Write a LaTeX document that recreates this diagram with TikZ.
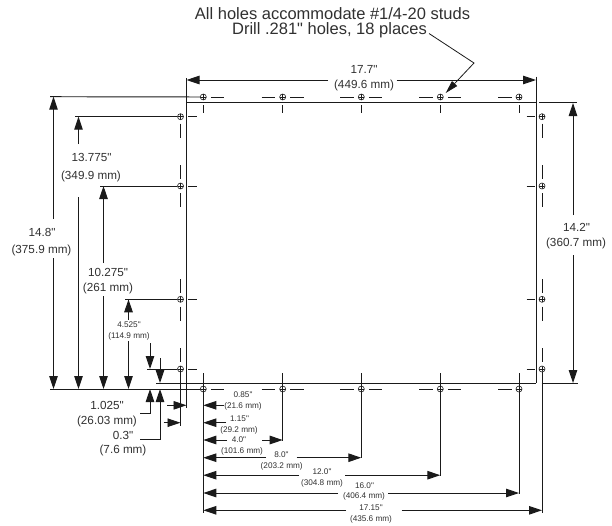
\documentclass[tikz,border=0pt]{standalone}
\usepackage{fontspec}
\setmainfont{Liberation Sans}[Ligatures=TeXOff]
\usetikzlibrary{arrows.meta}
\definecolor{ink}{HTML}{1A1A1A}
\definecolor{txt}{HTML}{303030}
\tikzset{
  ln/.style={draw=ink,line width=0.95pt},
  thin ln/.style={draw=ink,line width=0.8pt},
  arw/.style={ln,-{Triangle[length=13pt,width=8.5pt]}},
  hole/.style={circle,draw=ink,line width=0.6pt,minimum size=6pt,inner sep=0pt,
    path picture={\draw[ink,line width=0.5pt]
      (path picture bounding box.north)--(path picture bounding box.south)
      (path picture bounding box.west)--(path picture bounding box.east);}},
  big/.style={text=txt,font=\fontsize{11.7}{13}\selectfont,inner sep=0pt},
  small/.style={text=txt,font=\fontsize{8.2}{10}\selectfont,inner sep=0pt},
  head/.style={text=txt,font=\fontsize{16.5}{18}\selectfont,inner sep=0pt},
}
\begin{document}
\begin{tikzpicture}[x=1pt,y=-1pt]
\useasboundingbox (0,0) rectangle (612,525);
% header text
\node[head] (h1) at (332.5,13.5) {All holes accommodate \#1/4-20 studs};
\node[head] (h2) at (329.5,30.5) {Drill .281" holes, 18 places};
% frame
\draw[ln,line width=1pt] (186.5,102.7) -- (536,102.7);
\draw[ln,line width=1pt] (186.5,78) -- (186.5,408);
\draw[ln,line width=1pt] (536,76.5) -- (536,383);
\draw[ln,line width=1pt] (156,383) -- (536,383);
\draw[ln] (539,102.7) -- (577,102.7);
\draw[ln] (541.5,383) -- (578,383);
% holes
\foreach \n/\x in {1/203.3,2/282.7,3/361.3,4/440.3,5/519}{
  \node[hole] (t\n) at (\x,97) {};
  \node[hole] (b\n) at (\x,389) {};
  \draw[thin ln] (\x,105) -- (\x,113);
  \draw[thin ln] (\x,373) -- (\x,383);
  \draw[thin ln] (b\n) -- ++(0,-5);
}
\foreach \n/\y in {1/116.7,2/186,3/299.3,4/369}{
  \node[hole] (l\n) at (180.5,\y) {};
  \node[hole] (r\n) at (542,\y) {};
  \draw[thin ln] (188,\y) -- (196.5,\y);
  \draw[thin ln] (526.5,\y) -- (535,\y);
}
% top row centre dashes
\foreach \n in {1,2,3,4,5}{
  \ifnum\n>1 \draw[thin ln] ([xshift=-21pt]t\n.center) -- ([xshift=-7.5pt]t\n.center); \fi
  \ifnum\n<5 \draw[thin ln] ([xshift=7.5pt]t\n.center) -- ([xshift=21pt]t\n.center); \fi
  \ifnum\n>1 \draw[thin ln] ([xshift=-21pt]b\n.center) -- ([xshift=-7.5pt]b\n.center); \fi
  \ifnum\n<5 \draw[thin ln] ([xshift=7.5pt]b\n.center) -- ([xshift=21pt]b\n.center); \fi
}
% side column dashes
\foreach \x/\c in {180.5/l,542/r}{
  \draw[thin ln] (\x,123.5) -- (\x,137.5);
  \draw[thin ln] (\x,165) -- (\x,179);
  \draw[thin ln] (\x,193) -- (\x,207);
  \draw[thin ln] (\x,279) -- (\x,293);
  \draw[thin ln] (\x,306.5) -- (\x,320.5);
  \draw[thin ln] (\x,348) -- (\x,362);
}
% 17.7
\node[big] (a1) at (364,69) {17.7"};
\node[big] (a2) at (364,85) {(449.6 mm)};
\draw[arw] (328,80) -- (186.5,80);
\draw[arw] (396.5,80) -- (536,80);
% leader
\coordinate (elbow) at (474,63);
\draw[thin ln,-{Triangle[length=13pt,width=7pt]}] (429,33.5) -- (elbow) -- ([xshift=5.4pt,yshift=4pt]t4.center);
% left extension lines
\draw[ln] (50,96.7) -- (t1);
\draw[ln] (50,389) -- (b1);
\draw[ln] (75,116.7) -- (l1);
\draw[ln] (100,186) -- (l2);
\draw[ln] (125,299.3) -- (l3);
\draw[ln] (147,369) -- (l4);
% 14.8
\node[big] (d1) at (42,232) {14.8"};
\node[big] (d2) at (41.5,250) {(375.9 mm)};
\draw[arw] (53.5,219) -- (53.5,96.7);
\draw[arw] (53.5,258) -- (53.5,389);
% 13.775
\node[big] (e1) at (91.5,157) {13.775"};
\node[big] (e2) at (91,176) {(349.9 mm)};
\draw[arw] (78.5,144) -- (78.5,116.7);
\draw[arw] (78.5,197) -- (78.5,389);
% 10.275
\node[big] (f1) at (108,272) {10.275"};
\node[big] (f2) at (108,288) {(261 mm)};
\draw[arw] (103.5,263) -- (103.5,186);
\draw[arw] (103.5,296) -- (103.5,389);
% 4.525
\node[small] (g1) at (129,325) {4.525"};
\node[small] (g2) at (129,336.5) {(114.9 mm)};
\draw[arw] (128.5,320) -- (128.5,299.3);
\draw[arw] (128.5,341) -- (128.5,389);
% small drops
\draw[arw] (150,343) -- (150,369);
\draw[arw] (160,358) -- (160,383);
% 1.025
\node[big] (k1) at (107,405) {1.025"};
\node[big] (k2) at (107,421) {(26.03 mm)};
\draw[arw] (140,413) -- (150,413) -- (150,389);
% 0.3
\node[big] (m1) at (123,435) {0.3"};
\node[big] (m2) at (123,450) {(7.6 mm)};
\draw[arw] (140,439) -- (160,439) -- (160,389);
% short horizontals
\draw[arw] (167,405.3) -- (186.5,405.3);
\draw[arw] (163.5,422.7) -- (180.5,422.7);
\draw[ln] (l4) -- (180.5,426);
% bottom extension lines
\draw[ln] (b1) -- (203.3,513);
\draw[ln] (b2) -- (282.7,440.5);
\draw[ln] (b3) -- (361.3,458);
\draw[ln] (b4) -- (440.3,475.5);
\draw[ln] (b5) -- (519,493.5);
\draw[ln] (r4) -- (542,513);
% bottom dims
\node[small] (n1) at (243,395) {0.85"};
\node[small] (n2) at (243,406) {(21.6 mm)};
\draw[arw] (224,405.3) -- (203.3,405.3);
\node[small] (o1) at (239.5,419) {1.15"};
\node[small] (o2) at (239,430.5) {(29.2 mm)};
\draw[arw] (226,422.7) -- (203.3,422.7);
\node[small] (p1) at (239,440) {4.0"};
\node[small] (p2) at (242,451) {(101.6 mm)};
\draw[arw] (227,440) -- (203.3,440);
\draw[arw] (262,440) -- (282.7,440);
\node[small] (q1) at (281.5,455) {8.0"};
\node[small] (q2) at (281.7,466) {(203.2 mm)};
\draw[arw] (266,457.7) -- (203.3,457.7);
\draw[arw] (296.7,457.7) -- (361.3,457.7);
\node[small] (s1) at (322,472) {12.0"};
\node[small] (s2) at (322,483) {(304.8 mm)};
\draw[arw] (299,475.2) -- (203.3,475.2);
\draw[arw] (345,475.2) -- (440.3,475.2);
\node[small] (u1) at (364.5,485.5) {16.0"};
\node[small] (u2) at (364,496.5) {(406.4 mm)};
\draw[arw] (338,493) -- (203.3,493);
\draw[arw] (388,493) -- (519,493);
\node[small] (v1) at (371,508) {17.15"};
\node[small] (v2) at (371,519) {(435.6 mm)};
\draw[arw] (346,510.3) -- (203.3,510.3);
\draw[arw] (401.7,510.3) -- (542,510.3);
% 14.2
\node[big] (w1) at (576.5,227) {14.2"};
\node[big] (w2) at (576,243) {(360.7 mm)};
\draw[arw] (573,215) -- (573,103);
\draw[arw] (573,255) -- (573,383);
\end{tikzpicture}
\end{document}
